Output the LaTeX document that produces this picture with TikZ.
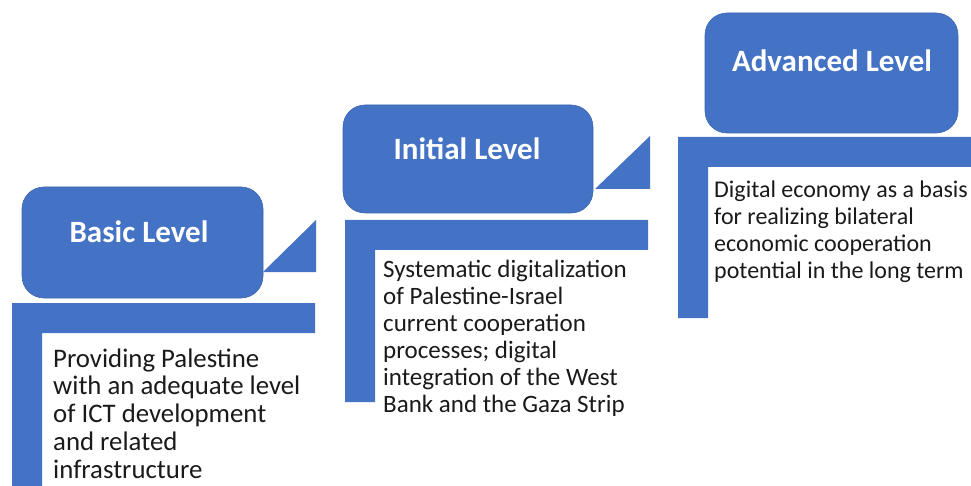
\documentclass[tikz,border=0pt]{standalone}
\usepackage{fontspec}
\setmainfont{Carlito}
\definecolor{officeblue}{HTML}{4472C4}
\definecolor{edgeblue}{HTML}{3B65B0}
\definecolor{bodytext}{HTML}{1A1A1A}
\begin{document}
\begin{tikzpicture}[x=1pt,y=-1pt,
  levelbox/.style={draw=edgeblue,line width=0.6pt,fill=officeblue,rounded corners=22pt},
  bar/.style={fill=officeblue,draw=none},
  title/.style={text=white,font=\fontsize{31}{36}\selectfont\bfseries,anchor=base,inner sep=0pt},
  body/.style={text=bodytext,anchor=base west,align=left,inner sep=0pt}]
\useasboundingbox (0,0) rectangle (971,486);
\begin{scope}
\clip (0,0) rectangle (971,486);
% Basic level
\draw[levelbox] (22,187) rectangle (263,298);
\fill[bar] (263,272) -- (316,220) -- (316,272) -- cycle;
\fill[bar] (12,303) -- (315,303) -- (315,333) -- (42,333) -- (42,490) -- (12,490) -- cycle;
\node[title] (basic) at (139,243) {Basic Level};
\node[body,font=\fontsize{26.8}{27.75}\selectfont] (basictext) at (53,478) {Providing Palestine\\with an adequate level\\of ICT development\\and related\\infrastructure};
% Initial level
\draw[levelbox] (343,105) rectangle (593,213);
\fill[bar] (595,189) -- (650,136) -- (650,189) -- cycle;
\fill[bar] (345,220) -- (648,220) -- (648,250) -- (375,250) -- (375,402) -- (345,402) -- cycle;
\node[title] (initial) at (467,160) {Initial Level};
\node[body,font=\fontsize{25}{27}\selectfont] (initialtext) at (383,412) {Systematic digitalization\\of Palestine-Israel\\current cooperation\\processes; digital\\integration of the West\\Bank and the Gaza Strip};
% Advanced level
\draw[levelbox] (705,13) rectangle (958,133);
\fill[bar] (678,137) -- (975,137) -- (975,167) -- (708,167) -- (708,318) -- (678,318) -- cycle;
\node[title] (advanced) at (832,72) {Advanced Level};
\node[body,font=\fontsize{24}{26.7}\selectfont] (advancedtext) at (714,278) {Digital economy as a basis\\for realizing bilateral\\economic cooperation\\potential in the long term};
\end{scope}
\end{tikzpicture}
\end{document}
